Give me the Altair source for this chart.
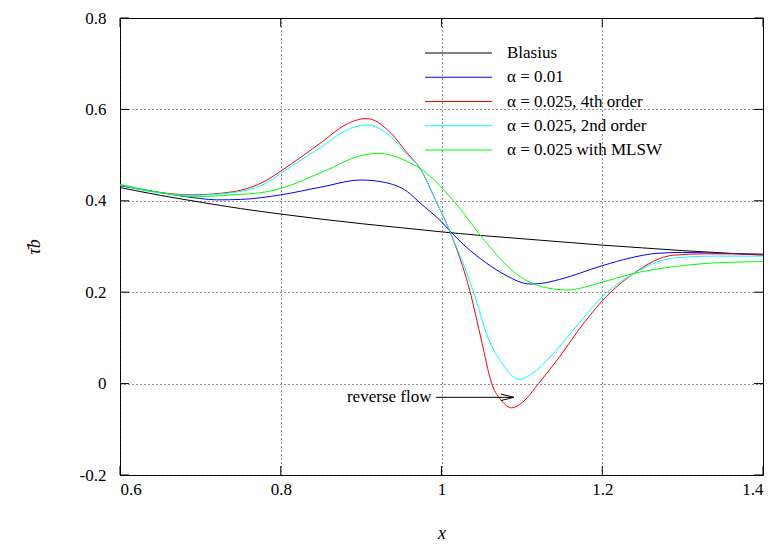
import altair as alt
import pandas as pd

series_names = ["Blasius", "α = 0.01", "α = 0.025, 4th order",
                "α = 0.025, 2nd order", "α = 0.025 with MLSW"]
series_colors = ["#000000", "#0000ff", "#ff0000", "#00ffff", "#00ff00"]

blasius_x = [0.60, 0.65, 0.70, 0.75, 0.80, 0.85, 0.90, 0.95, 1.00,
             1.05, 1.10, 1.15, 1.20, 1.25, 1.30, 1.35, 1.40]
blasius_y = [0.429, 0.412, 0.397, 0.383, 0.371, 0.360, 0.350, 0.341, 0.332,
             0.324, 0.317, 0.310, 0.303, 0.297, 0.291, 0.286, 0.281]

blue_x = [0.60, 0.65, 0.70, 0.72, 0.75, 0.80, 0.85, 0.90, 0.93, 0.9575, 0.9735,
          1.00, 1.01, 1.03, 1.0565, 1.08, 1.11, 1.123, 1.147, 1.20, 1.235,
          1.268, 1.30, 1.35, 1.40]
blue_y = [0.433, 0.418, 0.405, 0.402, 0.403, 0.413, 0.430, 0.4455, 0.440, 0.420, 0.395,
          0.354, 0.335, 0.300, 0.263, 0.237, 0.218, 0.219, 0.228, 0.258, 0.275,
          0.285, 0.287, 0.285, 0.283]

red_x = [0.60, 0.65, 0.69, 0.741, 0.783, 0.80, 0.853, 0.88, 0.907, 0.937, 0.9575,
         0.9733, 0.993, 1.01, 1.0357, 1.049, 1.0625, 1.075, 1.0875, 1.10, 1.1207,
         1.147, 1.1705, 1.20, 1.239, 1.2887, 1.33, 1.40]
red_y = [0.435, 0.418, 0.413, 0.420, 0.4455, 0.465, 0.531, 0.566, 0.580, 0.548, 0.504,
         0.471, 0.400, 0.335, 0.200, 0.100, 0.000, -0.038, -0.053, -0.042, 0.000,
         0.059, 0.117, 0.181, 0.241, 0.281, 0.284, 0.283]

cyan_x = [0.60, 0.65, 0.69, 0.741, 0.783, 0.80, 0.853, 0.88, 0.907, 0.937, 0.9575,
          0.9733, 0.993, 1.01, 1.040, 1.058, 1.075, 1.097, 1.115, 1.135, 1.164,
          1.20, 1.239, 1.29, 1.34, 1.40]
cyan_y = [0.435, 0.417, 0.412, 0.418, 0.440, 0.460, 0.521, 0.553, 0.566, 0.540, 0.500,
          0.471, 0.400, 0.335, 0.200, 0.100, 0.045, 0.009, 0.025, 0.058, 0.117,
          0.190, 0.241, 0.275, 0.279, 0.279]

green_x = [0.60, 0.65, 0.691, 0.741, 0.783, 0.80, 0.853, 0.8987, 0.9214, 0.9575,
           0.9733, 1.0149, 1.0226, 1.0481, 1.0979, 1.125, 1.156, 1.20, 1.239,
           1.29, 1.33, 1.40]
green_y = [0.436, 0.418, 0.409, 0.413, 0.420, 0.427, 0.464, 0.498, 0.504, 0.486,
           0.471, 0.400, 0.384, 0.325, 0.234, 0.212, 0.205, 0.222, 0.241,
           0.256, 0.263, 0.267]

x_ticks = [0.6, 0.8, 1, 1.2, 1.4]
y_ticks = [-0.2, 0, 0.2, 0.4, 0.6, 0.8]

arrow_x = [0.993, 1.09]
arrow_y = -0.03
note_text = "reverse flow"
note_x = 0.99

rows = []
for name, xs, ys in zip(series_names,
                        [blasius_x, blue_x, red_x, cyan_x, green_x],
                        [blasius_y, blue_y, red_y, cyan_y, green_y]):
    for i, (xv, yv) in enumerate(zip(xs, ys)):
        rows.append({"series": name, "x": xv, "y": yv, "order": i})
df = pd.DataFrame(rows)

W, H = 643, 457
FONT = "Liberation Serif"

xscale = alt.Scale(domain=[0.6, 1.4], nice=False, zero=False)
yscale = alt.Scale(domain=[-0.2, 0.8], nice=False, zero=False)
cscale = alt.Scale(domain=series_names, range=series_colors)

common_axis = dict(labelFont=FONT, titleFont=FONT, labelFontSize=17,
                   labelColor="black", titleColor="black",
                   gridColor="#222", gridDash=[1, 3], gridOpacity=1, gridWidth=1,
                   ticks=False, domain=False, grid=True,
                   titleFontStyle="italic", titleFontWeight="normal",
                   titleFontSize=18, labelExpr="'' + datum.value")

x_axis = alt.Axis(values=x_ticks, title="x", titlePadding=27, labelPadding=6,
                  **common_axis)
y_axis = alt.Axis(values=y_ticks, title="τ̄b", titlePadding=36, labelPadding=14,
                  **common_axis)

lines = alt.Chart(df).mark_line(strokeWidth=1, interpolate="monotone").encode(
    x=alt.X("x:Q", scale=xscale, axis=x_axis),
    y=alt.Y("y:Q", scale=yscale, axis=y_axis),
    color=alt.Color("series:N", scale=cscale, sort=series_names, legend=None),
    order="order:Q",
)

xt = pd.DataFrame({"t": x_ticks})
yt = pd.DataFrame({"t": y_ticks})
tick_bottom = alt.Chart(xt).mark_rule(color="black", strokeWidth=1).encode(
    x=alt.X("t:Q", scale=xscale), y=alt.value(H), y2=alt.value(H - 9))
tick_top = alt.Chart(xt).mark_rule(color="black", strokeWidth=1).encode(
    x=alt.X("t:Q", scale=xscale), y=alt.value(0), y2=alt.value(9))
tick_left = alt.Chart(yt).mark_rule(color="black", strokeWidth=1).encode(
    y=alt.Y("t:Q", scale=yscale), x=alt.value(0), x2=alt.value(9))
tick_right = alt.Chart(yt).mark_rule(color="black", strokeWidth=1).encode(
    y=alt.Y("t:Q", scale=yscale), x=alt.value(W), x2=alt.value(W - 9))

arr = pd.DataFrame({"x": [arrow_x[0]], "x2": [arrow_x[1]], "y": [arrow_y]})
arrow_line = alt.Chart(arr).mark_rule(color="black", strokeWidth=1).encode(
    x=alt.X("x:Q", scale=xscale), x2="x2:Q", y=alt.Y("y:Q", scale=yscale))
head = pd.DataFrame({"x": [arrow_x[1]], "y": [arrow_y]})
arrow_head = alt.Chart(head).mark_point(
    shape="M-1,-0.25L0,0L-1,0.25", filled=False, color="black",
    strokeWidth=1, size=676, opacity=1).encode(
    x=alt.X("x:Q", scale=xscale), y=alt.Y("y:Q", scale=yscale))
note = pd.DataFrame({"x": [note_x], "y": [arrow_y], "t": [note_text]})
note_mark = alt.Chart(note).mark_text(align="right", baseline="middle",
                                      fontSize=17, font=FONT, dx=-2).encode(
    x=alt.X("x:Q", scale=xscale), y=alt.Y("y:Q", scale=yscale), text="t:N")

main = alt.layer(lines, tick_bottom, tick_top, tick_left, tick_right,
                 arrow_line, arrow_head, note_mark)

# manual legend: key lines (two end points each) + labels, placed by rank
leg = pd.DataFrame({"label": series_names, "rank": list(range(len(series_names))),
                    "col": series_colors})
key_rows = []
for k, (name, c) in enumerate(zip(series_names, series_colors)):
    for p in (0, 1):
        key_rows.append({"key": "k%d" % k, "rank": k, "pos": p, "col": c})
keys = pd.DataFrame(key_rows)

leg_y = alt.Y("rank:Q", scale=alt.Scale(domain=[0, 4], range=[35, 132], nice=False,
                                        zero=False), axis=None)
leg_keys = alt.Chart(keys).mark_line(strokeWidth=1, opacity=1).encode(
    x=alt.X("pos:Q", scale=alt.Scale(domain=[0, 1], range=[305, 372], nice=False,
                                     zero=False), axis=None),
    y=leg_y,
    detail="key:N",
    stroke=alt.Stroke("col:N", scale=None, legend=None),
)
leg_text = alt.Chart(leg).mark_text(align="left", baseline="middle", fontSize=17,
                                    font=FONT, color="black").encode(
    y=leg_y, x=alt.value(387), text="label:N")
legend_layer = alt.layer(leg_text, leg_keys)

chart = alt.layer(main, legend_layer).resolve_scale(
    x="independent", y="independent").properties(
    width=W, height=H,
    autosize=alt.AutoSizeParams(type="none"),
    padding={"left": 112, "top": 10, "right": 12, "bottom": 68},
    background="white",
).configure_view(stroke="black", strokeWidth=1)

chart.save("out.html", embed_options={"renderer": "svg", "actions": False})
